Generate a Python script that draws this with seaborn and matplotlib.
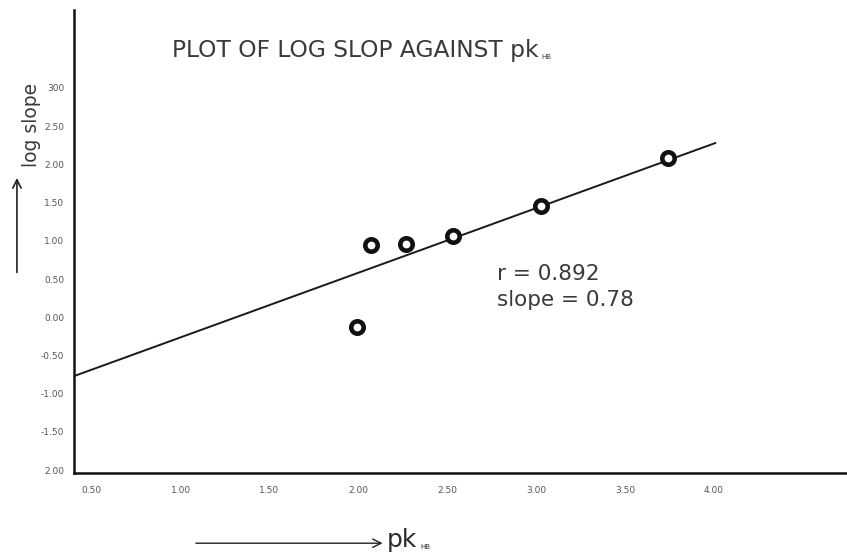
import matplotlib
matplotlib.use("Agg")
import matplotlib.pyplot as plt
from matplotlib.patches import FancyArrowPatch
import seaborn as sns
import pandas as pd

# ---- data ----
pk_hb = [1.99, 2.07, 2.27, 2.53, 3.03, 3.74]
log_slope = [-0.13, 0.94, 0.96, 1.06, 1.45, 2.09]

fit_intercept = -1.108
fit_slope = 0.845
fit_x_end = 4.01

x_ticks = [0.5, 1.0, 1.5, 2.0, 2.5, 3.0, 3.5, 4.0]
x_tick_labels = ["0.50", "1.00", "1.50", "2.00", "2.50", "3.00", "3.50", "4.00"]
y_ticks = [3.0, 2.5, 2.0, 1.5, 1.0, 0.5, 0.0, -0.5, -1.0, -1.5, -2.0]
y_tick_labels = ["300", "2.50", "2.00", "1.50", "1.00", "0.50", "0.00",
                 "-0.50", "-1.00", "-1.50", "2.00"]

title_main = "PLOT OF LOG SLOP AGAINST pk"
title_sub = "HB"
x_label_main = "pk"
x_label_sub = "HB"
y_label = "log slope"
r_value = 0.892
slope_text = 0.78

sns.set_theme(style="white")
plt.rcParams['font.family'] = ['DejaVu Sans']

fig = plt.figure(figsize=(8.47, 5.56), dpi=100)
ax = fig.add_axes([0.0874, 0.149, 0.9126, 0.833])

x_min, x_max = 0.40, 4.75
y_min, y_max = -2.04, 4.02

# fitted line
fit_df = pd.DataFrame({"x": [x_min, fit_x_end]})
fit_df["y"] = fit_intercept + fit_slope * fit_df["x"]
sns.lineplot(data=fit_df, x="x", y="y", ax=ax, color="#1a1a1a", linewidth=1.4)

# data points
df = pd.DataFrame({"pk": pk_hb, "ls": log_slope})
sns.scatterplot(data=df, x="pk", y="ls", ax=ax, s=80, marker="o",
                facecolor="white", edgecolor="#111111", linewidth=3.3, zorder=5)

ax.set_xlim(x_min, x_max)
ax.set_ylim(y_min, y_max)
ax.set_xticks(x_ticks)
ax.set_xticklabels(x_tick_labels)
ax.set_yticks(y_ticks)
ax.set_yticklabels(y_tick_labels)
ax.tick_params(axis="both", length=0, labelsize=6.5, colors="#555555")
ax.tick_params(axis="x", pad=9)
ax.tick_params(axis="y", pad=7)
ax.set_xlabel("")
ax.set_ylabel("")

for side in ["top", "right"]:
    ax.spines[side].set_visible(False)
for side in ["left", "bottom"]:
    ax.spines[side].set_color("#111111")
    ax.spines[side].set_linewidth(1.8)

renderer = fig.canvas.get_renderer()


def text_with_sub(x, y, main, sub, size, sub_size, color):
    t = fig.text(x, y, main, fontsize=size, color=color, ha="left", va="baseline")
    bb = t.get_window_extent(renderer=renderer)
    x_end = bb.x1 / fig.bbox.width
    fig.text(x_end + 0.003, y - 0.004, sub, fontsize=sub_size, color=color,
             ha="left", va="baseline")


# title
text_with_sub(0.203, 0.898, title_main, title_sub, 16.8, 5, "#3a3a3a")

# annotation
fig.text(0.587, 0.497, f"r = {r_value}", fontsize=15.5, color="#3a3a3a",
         ha="left", va="baseline")
fig.text(0.587, 0.450, f"slope = {slope_text}", fontsize=15.5, color="#3a3a3a",
         ha="left", va="baseline")

# x label with arrow
fig.add_artist(FancyArrowPatch(
    (0.228, 0.023), (0.455, 0.023), transform=fig.transFigure,
    arrowstyle="->,head_length=6,head_width=3", color="#222222", lw=1.0))
text_with_sub(0.457, 0.016, x_label_main, x_label_sub, 18, 5, "#2a2a2a")

# y label with arrow
fig.add_artist(FancyArrowPatch(
    (0.020, 0.505), (0.020, 0.685), transform=fig.transFigure,
    arrowstyle="->,head_length=6,head_width=3", color="#222222", lw=1.2))
fig.text(0.037, 0.775, y_label, fontsize=13.5, color="#3a3a3a",
         rotation=90, ha="center", va="center")

fig.savefig("out.png", dpi=100)
